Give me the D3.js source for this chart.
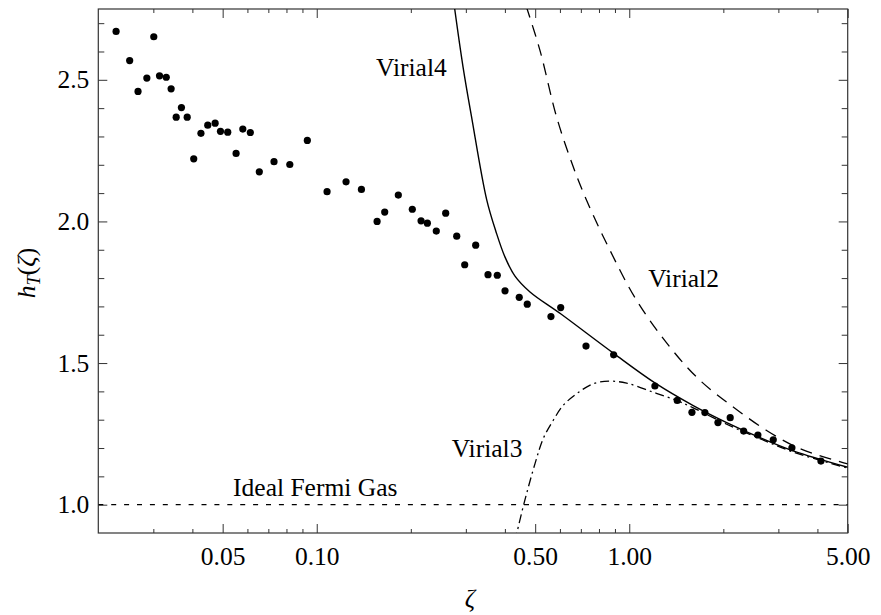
<!DOCTYPE html>
<html>
<head>
<meta charset="utf-8">
<script src="https://cdn.jsdelivr.net/npm/d3@7"></script>
<style>
  html, body { margin: 0; padding: 0; background: #fff; }
  svg { display: block; }
  text { font-family: "Liberation Serif", "DejaVu Serif", serif; fill: #000; }
</style>
</head>
<body>
<svg id="chart" width="881" height="615"></svg>
<script>
// ---- data ----
const dataZeta = [0.0228,0.0252,0.0268,0.0286,0.0301,0.0314,0.0330,0.0342,0.0355,0.0369,0.0385,0.0404,0.0426,0.0448,0.0473,0.0492,0.0519,0.0552,0.0580,0.0613,0.0655,0.0730,0.0820,0.0933,0.1079,0.1241,0.139,0.156,0.165,0.1824,0.2022,0.2157,0.2259,0.2413,0.2586,0.2805,0.2975,0.3226,0.3532,0.3782,0.4004,0.4446,0.4716,0.5616,0.6034,0.7271,0.8913,1.208,1.424,1.587,1.746,1.922,2.104,2.323,2.580,2.889,3.315,4.105];
const dataH    = [2.671,2.568,2.459,2.506,2.652,2.514,2.509,2.468,2.368,2.402,2.368,2.221,2.311,2.340,2.347,2.318,2.315,2.240,2.326,2.314,2.175,2.211,2.201,2.286,2.105,2.140,2.113,2.000,2.033,2.093,2.043,2.002,1.994,1.966,2.029,1.948,1.847,1.916,1.812,1.810,1.755,1.732,1.708,1.664,1.696,1.560,1.529,1.419,1.368,1.326,1.325,1.290,1.307,1.260,1.246,1.229,1.201,1.154];

const virial4Zeta = [0.2740,0.2938,0.3128,0.3499,0.3748,0.4004,0.4309,0.4813,0.6046,0.8915,1.208,1.602,2.050,2.619,3.346,5.0];
const virial4H    = [2.780,2.546,2.370,2.076,1.963,1.874,1.807,1.751,1.673,1.534,1.430,1.350,1.290,1.237,1.190,1.132];

const virial2Zeta = [0.468,0.5179,0.5857,0.6622,0.7307,0.8676,1.056,1.350,1.684,2.151,2.751,3.516,5.0];
const virial2H    = [2.760,2.604,2.368,2.192,2.074,1.898,1.721,1.556,1.439,1.345,1.262,1.198,1.144];

const virial3Zeta = [0.430,0.4363,0.4603,0.4994,0.5308,0.5713,0.6151,0.6789,0.7671,0.8676,0.981,1.193,1.418,1.602,2.050,2.619,3.346,5.0];
const virial3H    = [0.870,0.898,1.0035,1.145,1.234,1.298,1.351,1.392,1.427,1.436,1.429,1.397,1.368,1.342,1.284,1.233,1.186,1.129];

const idealZeta = [0.02, 5.0];
const idealH    = [1.0, 1.0];

const xMajorTicks  = [0.05, 0.10, 0.50, 1.00, 5.00];
const xMajorLabels = ["0.05", "0.10", "0.50", "1.00", "5.00"];
const xMinorTicks  = [0.03,0.04,0.06,0.07,0.08,0.09,0.2,0.3,0.4,0.6,0.7,0.8,0.9,2,3,4];
const yMajorTicks  = [1.0, 1.5, 2.0, 2.5];
const yMajorLabels = ["1.0", "1.5", "2.0", "2.5"];
const yMinorTicks  = [1.1,1.2,1.3,1.4,1.6,1.7,1.8,1.9,2.1,2.2,2.3,2.4,2.6,2.7];

const labelTexts = ["Virial4", "Virial2", "Virial3", "Ideal Fermi Gas"];
const labelZeta  = [0.1548, 1.150, 0.2703, 0.0540];
const labelH     = [2.515, 1.7675, 1.169, 1.0317];

// ---- layout ----
const L = 98.3, R = 847.7, T = 9, B = 533;
const FS = 25.5;
const svg = d3.select("#chart");

const x = d3.scaleLog().domain([0.02, 5]).range([L, R]);
const y = d3.scaleLinear().domain([0.9, 2.75]).range([B, T]);

svg.append("defs").append("clipPath").attr("id", "clip")
  .append("rect").attr("x", L).attr("y", T).attr("width", R - L).attr("height", B - T);

const tickColor = "#333";
function styleAxis(g) {
  g.attr("font-family", null);
  g.select(".domain").remove();
  g.selectAll(".tick line").attr("stroke", tickColor).attr("stroke-width", 1);
  g.selectAll(".tick text").attr("font-size", FS).attr("fill", "#000");
}

// bottom axis
svg.append("g").attr("transform", `translate(0,${B})`)
  .call(d3.axisBottom(x).tickValues(xMajorTicks).tickFormat((d, i) => xMajorLabels[i]).tickSizeInner(-9).tickSizeOuter(0).tickPadding(14))
  .call(styleAxis);
svg.append("g").attr("transform", `translate(0,${B})`)
  .call(d3.axisBottom(x).tickValues(xMinorTicks).tickFormat("").tickSizeInner(-4).tickSizeOuter(0))
  .call(styleAxis);
// top axis
svg.append("g").attr("transform", `translate(0,${T})`)
  .call(d3.axisTop(x).tickValues(xMajorTicks).tickFormat("").tickSizeInner(-9).tickSizeOuter(0))
  .call(styleAxis);
svg.append("g").attr("transform", `translate(0,${T})`)
  .call(d3.axisTop(x).tickValues(xMinorTicks).tickFormat("").tickSizeInner(-4).tickSizeOuter(0))
  .call(styleAxis);
// left axis
svg.append("g").attr("transform", `translate(${L},0)`)
  .call(d3.axisLeft(y).tickValues(yMajorTicks).tickFormat((d, i) => yMajorLabels[i]).tickSizeInner(-9).tickSizeOuter(0).tickPadding(9))
  .call(styleAxis);
svg.append("g").attr("transform", `translate(${L},0)`)
  .call(d3.axisLeft(y).tickValues(yMinorTicks).tickFormat("").tickSizeInner(-6).tickSizeOuter(0))
  .call(styleAxis);
// right axis
svg.append("g").attr("transform", `translate(${R},0)`)
  .call(d3.axisRight(y).tickValues(yMajorTicks).tickFormat("").tickSizeInner(-9).tickSizeOuter(0))
  .call(styleAxis);
svg.append("g").attr("transform", `translate(${R},0)`)
  .call(d3.axisRight(y).tickValues(yMinorTicks).tickFormat("").tickSizeInner(-6).tickSizeOuter(0))
  .call(styleAxis);

// frame
svg.append("rect").attr("x", L).attr("y", T).attr("width", R - L).attr("height", B - T)
  .attr("fill", "none").attr("stroke", tickColor).attr("stroke-width", 1.2);

// curves
const plot = svg.append("g").attr("clip-path", "url(#clip)");
function drawCurve(zs, hs, dash, width) {
  const pts = zs.map((z, i) => [z, hs[i]]);
  const line = d3.line().x(d => x(d[0])).y(d => y(d[1])).curve(d3.curveCatmullRom.alpha(0.5));
  plot.append("path").datum(pts).attr("d", line)
    .attr("fill", "none").attr("stroke", "#000").attr("stroke-width", width)
    .attr("stroke-dasharray", dash);
}
drawCurve(idealZeta, idealH, "5,7.9", 1.3);
drawCurve(virial2Zeta, virial2H, "12,8", 1.3);
drawCurve(virial3Zeta, virial3H, "9,4,2,4", 1.3);
drawCurve(virial4Zeta, virial4H, null, 1.4);

// data points
plot.selectAll("circle.pt").data(dataZeta.map((z, i) => [z, dataH[i]]))
  .enter().append("circle").attr("class", "pt")
  .attr("cx", d => x(d[0])).attr("cy", d => y(d[1])).attr("r", 3.6).attr("fill", "#000");

// curve labels
svg.selectAll("text.lbl").data(labelTexts).enter().append("text").attr("class", "lbl")
  .attr("x", (d, i) => x(labelZeta[i])).attr("y", (d, i) => y(labelH[i]))
  .attr("font-size", FS)
  .text(d => d);

// axis titles
svg.append("text").attr("x", 470).attr("y", 607).attr("text-anchor", "middle")
  .attr("font-size", FS).attr("font-style", "italic").text("ζ");

const yl = svg.append("text").attr("transform", "translate(35,273) rotate(-90)")
  .attr("text-anchor", "middle").attr("font-size", FS);
yl.append("tspan").attr("font-style", "italic").text("h");
yl.append("tspan").attr("font-style", "italic").attr("font-size", FS * 0.72).attr("dy", 5).text("T");
yl.append("tspan").attr("dy", -5).text("(");
yl.append("tspan").attr("font-style", "italic").text("ζ");
yl.append("tspan").text(")");
</script>
</body>
</html>
